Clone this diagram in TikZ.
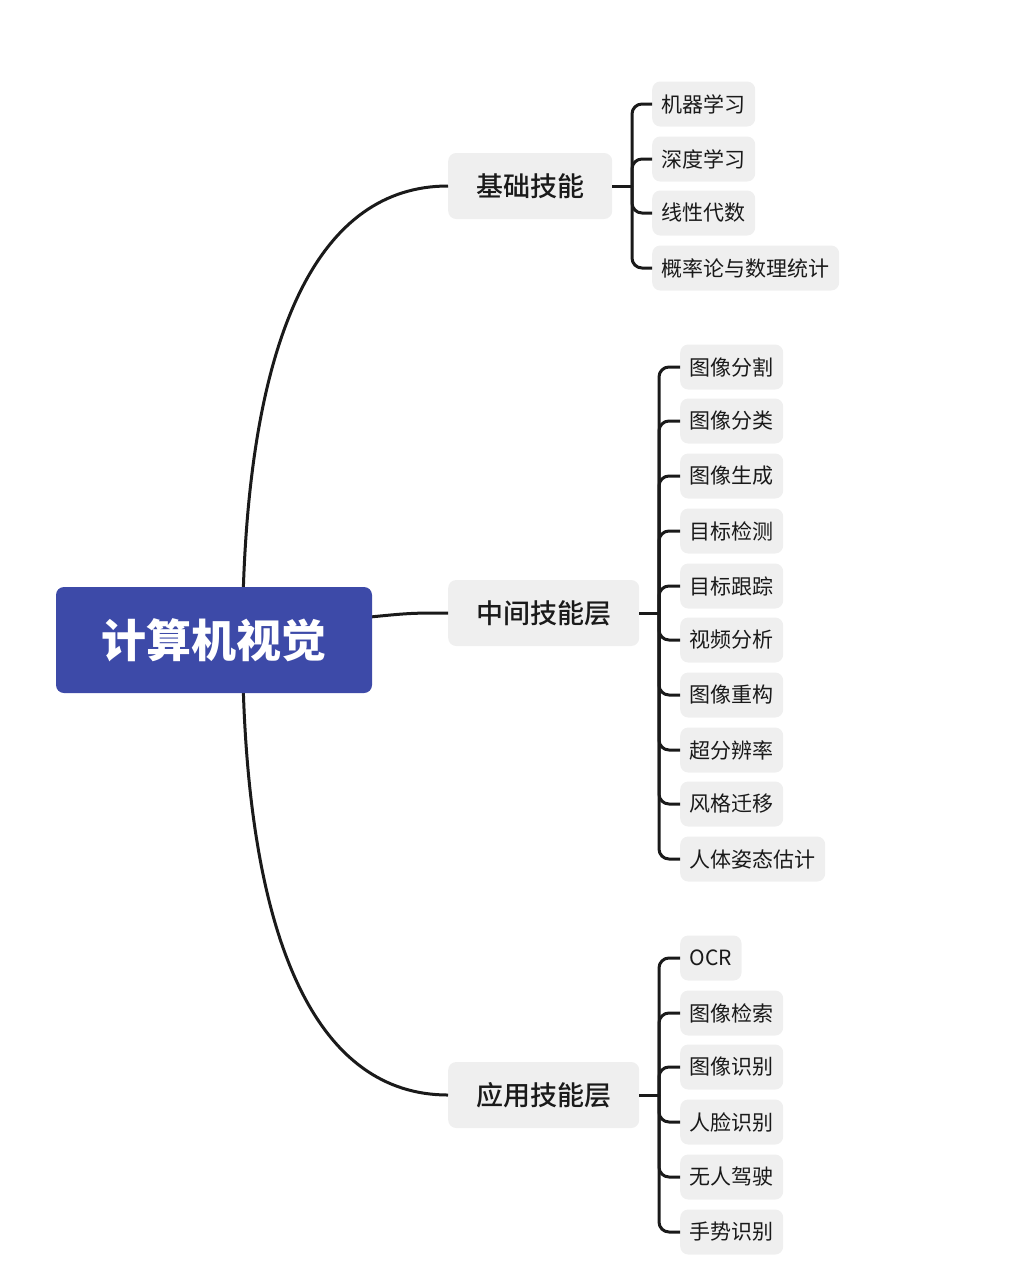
\documentclass[tikz,border=0pt]{standalone}
\usepackage{fontspec}
\setmainfont{Noto Sans CJK SC}
\newfontfamily\medfont{Noto Sans CJK SC Medium}
\definecolor{rootblue}{RGB}{61,74,168}
\definecolor{boxgray}{RGB}{239,239,239}
\definecolor{ink}{RGB}{26,26,26}
\begin{document}
\begin{tikzpicture}[x=1pt,y=-1pt,
  rootbox/.style={fill=rootblue,rounded corners=8pt,minimum width=316pt,minimum height=106pt,text=white,font=\fontsize{45}{50}\selectfont\bfseries,inner sep=0pt},
  midbox/.style={fill=boxgray,rounded corners=8pt,anchor=west,inner xsep=28pt,inner ysep=0pt,minimum height=66pt,text=ink,font=\fontsize{27}{30}\selectfont\medfont},
  leafbox/.style={fill=boxgray,rounded corners=8pt,anchor=west,inner xsep=9.5pt,inner ysep=0pt,minimum height=45pt,text=ink,font=\fontsize{21}{24}\selectfont},
  conn/.style={draw=ink,line width=3pt},
  bracket/.style={draw=ink,line width=3pt,rounded corners=10pt}
]
\useasboundingbox (0,0) rectangle (1010,1288);

% level 1 nodes
\node[midbox] (b1) at (448,186) {基础技能};
\node[midbox] (b2) at (448,613) {中间技能层};
\node[midbox] (b3) at (448,1095) {应用技能层};

% root connectors (drawn before root so root covers ends)
\coordinate (rt) at (243,600);
\coordinate (rb) at (243,680);
\draw[conn] (rt) .. controls (250,330) and (320,186) .. (b1.west);
\draw[conn] (rb) .. controls (250,950) and (320,1095) .. (b3.west);
\draw[conn] (360,618) .. controls (410,613) .. (b2.west);

\node[rootbox] (root) at (214,640) {计算机视觉};

% group 1 leaves
\node[leafbox] (a1) at (652,104) {机器学习};
\node[leafbox] (a2) at (652,159) {深度学习};
\node[leafbox] (a3) at (652,213) {线性代数};
\node[leafbox] (a4) at (652,268) {概率论与数理统计};
\coordinate (j1) at (632,186);
\draw[conn] (b1.east) -- (j1);
\foreach \n in {a1,a2,a3,a4} \draw[bracket] (j1) |- (\n.west);

% group 2 leaves
\node[leafbox] (m1) at (680,367) {图像分割};
\node[leafbox] (m2) at (680,421) {图像分类};
\node[leafbox] (m3) at (680,476) {图像生成};
\node[leafbox] (m4) at (680,531) {目标检测};
\node[leafbox] (m5) at (680,586) {目标跟踪};
\node[leafbox] (m6) at (680,640) {视频分析};
\node[leafbox] (m7) at (680,695) {图像重构};
\node[leafbox] (m8) at (680,750) {超分辨率};
\node[leafbox] (m9) at (680,804) {风格迁移};
\node[leafbox] (m10) at (680,859) {人体姿态估计};
\coordinate (j2) at (659,613);
\draw[conn] (b2.east) -- (j2);
\foreach \n in {m1,m2,m3,m4,m5,m6,m7,m8,m9,m10} \draw[bracket] (j2) |- (\n.west);

% group 3 leaves
\node[leafbox] (c1) at (680,958) {OCR};
\node[leafbox] (c2) at (680,1013) {图像检索};
\node[leafbox] (c3) at (680,1067) {图像识别};
\node[leafbox] (c4) at (680,1122) {人脸识别};
\node[leafbox] (c5) at (680,1177) {无人驾驶};
\node[leafbox] (c6) at (680,1232) {手势识别};
\coordinate (j3) at (659,1095);
\draw[conn] (b3.east) -- (j3);
\foreach \n in {c1,c2,c3,c4,c5,c6} \draw[bracket] (j3) |- (\n.west);
\end{tikzpicture}
\end{document}
